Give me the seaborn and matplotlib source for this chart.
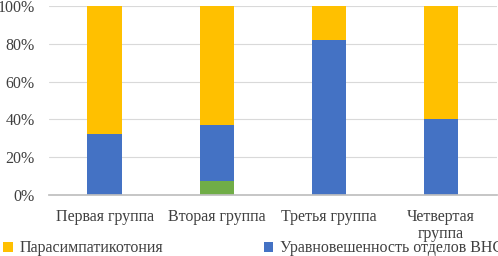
import numpy as np
import pandas as pd
import matplotlib
matplotlib.use('Agg')
import matplotlib.pyplot as plt
import seaborn as sns

# --- data (percent) ---
groups = ['Первая группа', 'Вторая группа', 'Третья группа', 'Четвертая\nгруппа']
simpat = [0, 7.5, 0, 0]            # green
balance = [32.5, 29.5, 82, 40]     # blue
parasimpat = [67.5, 63, 18, 60]    # yellow

c_yellow = '#FFC000'
c_blue = '#4472C4'
c_green = '#70AD47'

sns.set_theme(style='white')
plt.rcParams['font.family'] = ['Liberation Serif', 'DejaVu Serif']

df = pd.DataFrame({'group': groups, 'simpat': simpat,
                   'balance': balance, 'parasimpat': parasimpat})
df['top_blue'] = df.simpat + df.balance
df['top_yellow'] = df.top_blue + df.parasimpat

fig = plt.figure(figsize=(4.98, 2.56), dpi=100)
ax = fig.add_axes([0.098, 0.238, 0.9, 0.739])

w = 0.31
sns.barplot(data=df, x='group', y='top_yellow', color=c_yellow, width=w,
            saturation=1, ax=ax, label='Парасимпатикотония', linewidth=0)
sns.barplot(data=df, x='group', y='top_blue', color=c_blue, width=w,
            saturation=1, ax=ax, label='Уравновешенность отделов ВНС', linewidth=0)
sns.barplot(data=df, x='group', y='simpat', color=c_green, width=w,
            saturation=1, ax=ax, linewidth=0)

ax.set_ylim(0, 100)
ax.set_xlim(-0.5, 3.5)
ax.set_yticks(np.arange(0, 101, 20))
ax.set_yticklabels([f'{v}%' for v in range(0, 101, 20)])
ax.yaxis.grid(True, color='#D9D9D9', linewidth=0.8)
ax.set_axisbelow(True)
for s in ['top', 'right', 'left']:
    ax.spines[s].set_visible(False)
ax.spines['bottom'].set_color('#BFBFBF')
ax.set_xlabel('')
ax.set_ylabel('')
ax.tick_params(axis='both', labelsize=11.5, length=0, colors='#404040')
ax.tick_params(axis='x', pad=10)
ax.tick_params(axis='y', pad=10)
for t in ax.get_xticklabels():
    t.set_linespacing(1.1)

handles, labels = ax.get_legend_handles_labels()
fig.legend(handles, labels, loc='lower left', bbox_to_anchor=(-0.022, -0.058),
           ncol=2, frameon=False, fontsize=11.5, handlelength=0.6,
           handleheight=0.6, handletextpad=0.4, columnspacing=6.3,
           labelcolor='#404040')
if ax.get_legend() is not None:
    ax.get_legend().remove()

fig.savefig('out.png', dpi=100)
